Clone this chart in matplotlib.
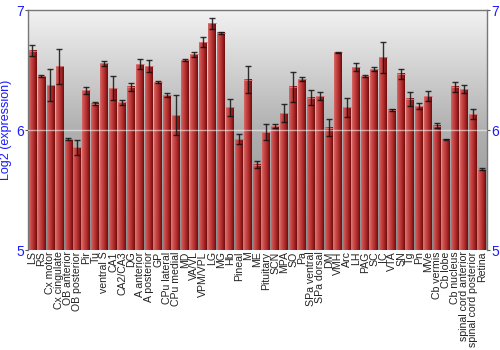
import numpy as np
import matplotlib
matplotlib.use("Agg")
import matplotlib.pyplot as plt
from matplotlib.colors import LinearSegmentedColormap

regions = [
    "LS", "RS", "Cx motor", "Cx cingulate", "OB anterior", "OB posterior",
    "Pir", "Tu", "ventral S", "CA1", "CA2/CA3", "DG", "A anterior",
    "A posterior", "GP", "CPu lateral", "CPu medial", "MD", "VA/VL",
    "VPM/VPL", "LG", "MG", "Hb", "Pineal", "M", "ME", "Pituitary", "SCN",
    "MPA", "SO", "Pa", "SPa ventral", "SPa dorsal", "DM", "VMH", "Arc", "LH",
    "PAG", "SC", "IC", "VTA", "SN", "Tg", "Pn", "MVe", "Cb vermis",
    "Cb lobe", "Cb nucleus", "spinal cord anterior", "spinal cord posterior",
    "Retina",
]
expression = [
    6.66, 6.45, 6.375, 6.53, 5.925, 5.855, 6.33, 6.22, 6.555, 6.35, 6.23,
    6.36, 6.55, 6.53, 6.40, 6.29, 6.125, 6.583, 6.63, 6.733, 6.89, 6.81,
    6.19, 5.925, 6.42, 5.71, 5.98, 6.033, 6.14, 6.36, 6.425, 6.27, 6.283,
    6.02, 6.647, 6.19, 6.525, 6.45, 6.508, 6.606, 6.167, 6.467, 6.26, 6.20,
    6.283, 6.036, 5.92, 6.36, 6.34, 6.133, 5.675,
]
errors = [
    0.045, 0.006, 0.13, 0.145, 0.01, 0.065, 0.03, 0.01, 0.02, 0.10, 0.02,
    0.035, 0.04, 0.05, 0.005, 0.015, 0.17, 0.005, 0.02, 0.045, 0.045, 0.01,
    0.07, 0.04, 0.11, 0.03, 0.067, 0.02, 0.075, 0.125, 0.02, 0.06, 0.03,
    0.07, 0.005, 0.08, 0.033, 0.005, 0.015, 0.13, 0.01, 0.045, 0.06, 0.025,
    0.045, 0.02, 0.005, 0.04, 0.035, 0.045, 0.005,
]
y_ticks = [5, 6, 7]

BLUE = "#1a1aff"
plt.rcParams["font.family"] = ["Liberation Sans", "DejaVu Sans"]

fig = plt.figure(figsize=(5, 3.5), dpi=100)
ax = fig.add_axes([0.056, 0.2857, 0.918, 0.6857])

x = np.arange(len(regions))
xlim = (-0.5, len(regions) - 0.45)
ylim = (5, 7)
ax.set_xlim(*xlim)
ax.set_ylim(*ylim)

# grey gradient background
bg = LinearSegmentedColormap.from_list("bg", ["#8c8c8c", "#b0b0b0", "#f2f2f2"])
ax.imshow(np.linspace(0, 1, 256).reshape(-1, 1), cmap=bg, origin="lower",
          extent=[*xlim, *ylim], aspect="auto", zorder=0)

# bars with horizontal red gradient
red = LinearSegmentedColormap.from_list(
    "red", ["#d46a68", "#c84a48", "#b83434", "#9a2020", "#6e0c0c"])
grad = np.linspace(0, 1, 64).reshape(1, -1)
w = 0.44
for xi, v in zip(x, expression):
    ax.imshow(grad, cmap=red, extent=[xi - w, xi + w, ylim[0], v],
              aspect="auto", zorder=2)
    ax.plot([xi - w, xi + w], [v, v], color="#e08080", lw=0.6, zorder=2.5)

ax.axhline(6, color="white", lw=1.0, alpha=0.55, zorder=3)

ax.errorbar(x, expression, yerr=errors, fmt="none", ecolor="#111111",
            elinewidth=1.0, capsize=2.2, capthick=1.0, alpha=0.85, zorder=4)

ax.set_xticks(x)
ax.set_xticklabels(regions, rotation=90, fontsize=7.6, color="#222222")
ax.tick_params(axis="x", length=0, pad=1)

ax.set_yticks(y_ticks)
ax.set_yticklabels([str(t) for t in y_ticks])
ax.tick_params(axis="y", colors="#555555", labelcolor=BLUE, labelsize=10,
               length=2.5, pad=0.5, left=True, right=True, labelright=True)
ax.set_ylabel("Log2 (expression)", color=BLUE, fontsize=9, labelpad=3)

for side in ["top", "right", "left", "bottom"]:
    ax.spines[side].set_color("#777777")
    ax.spines[side].set_linewidth(1.0)
ax.spines["bottom"].set_visible(False)

fig.savefig("out.png", dpi=100)
